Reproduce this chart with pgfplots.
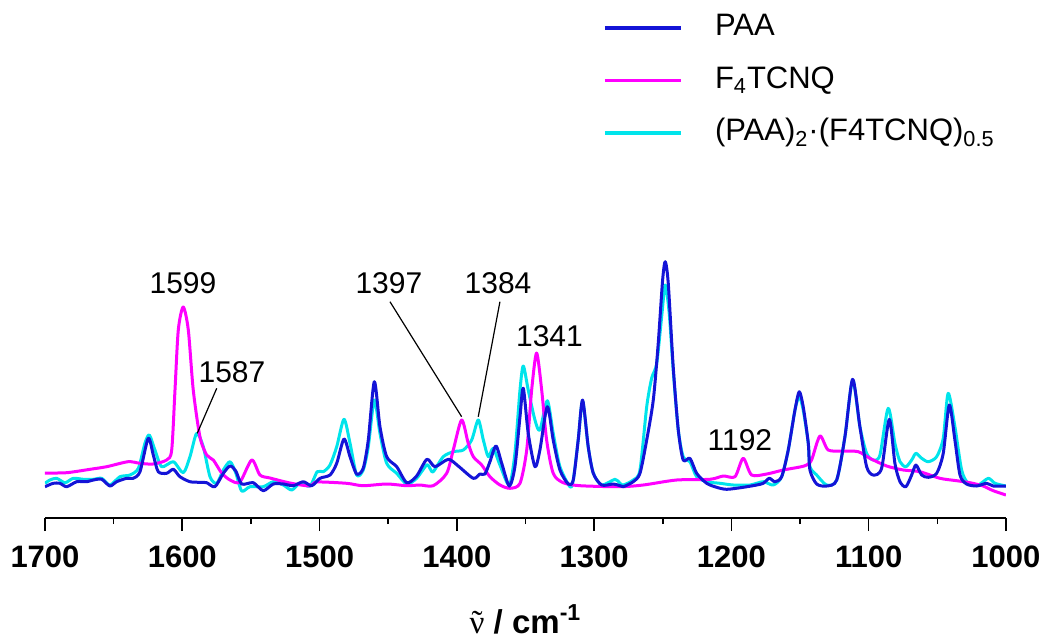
\documentclass[border=0pt]{standalone}
\usepackage{pgfplots}
\pgfplotsset{compat=1.18}
\usepackage{fontspec}
\setmainfont{Liberation Sans}
\newfontfamily\serifnu{Liberation Serif}
\definecolor{paa}{RGB}{20,20,215}
\definecolor{ftc}{RGB}{255,0,255}
\definecolor{cplx}{RGB}{0,228,235}
\begin{document}
\begin{tikzpicture}
\path[use as bounding box] (-22.5pt,-60.5pt) rectangle (497.5pt,259pt);
\begin{axis}[
  scale only axis,
  width=480.5pt, height=254pt,
  xmin=1000, xmax=1700, ymin=0, ymax=508,
  x dir=reverse,
  axis x line=bottom, axis y line=none,
  x axis line style={-, line width=1pt},
  xtick={1000,1100,...,1700},
  minor x tick num=1,
  tick align=outside,
  major tick length=6.5pt, minor tick length=3pt,
  every tick/.style={black, line width=0.8pt},
  /pgf/number format/1000 sep={},
  /pgf/number format/assume math mode=true,
  xticklabel style={font=\bfseries\fontsize{15.5}{18}\selectfont, yshift=-4pt},
  xlabel={{\serifnu\mdseries\accent"02DC ν} / cm\textsuperscript{-1}},
  xlabel style={font=\bfseries\fontsize{16.5}{20}\selectfont, at={(rel axis cs:0.5,0)}, anchor=base, yshift=-57.5pt},
  reverse legend,
  legend cell align=left,
  legend style={draw=none, fill=none, at={(axis description cs:0.5806,0.997)}, anchor=north west,
    inner sep=0pt, row sep=10.25pt,
    font=\fontsize{15.5}{18}\selectfont,
    nodes={inner sep=0pt, text height=12pt, text depth=4pt}},
  legend image code/.code={\draw[#1, line width=1.6pt] (0pt,0pt) -- (38pt,0pt); \path (54.3pt,0pt);},
  every axis plot/.append style={line width=1.5pt, line join=round, smooth, tension=0.45},
]
\addplot[cplx] coordinates {(1700,34.7)(1696.4,38)(1691.5,39.7)(1685.4,35.3)(1679.4,39.7)(1672.1,38.7)(1664.8,38.7)(1658.7,39.7)(1652.7,33)(1645.4,41.3)(1638.1,43)(1632.0,49.7)(1627.2,74.7)(1624.0,83)(1619.9,68)(1615.0,51.3)(1606.5,56.3)(1599.3,45.3)(1594.4,61.3)(1589.5,84.7)(1584.7,71.3)(1579.8,41.3)(1574.9,34.7)(1570.1,48)(1565.2,56.3)(1561,45)(1556.7,27)(1550.7,31.3)(1541.0,31.3)(1533.7,36.3)(1526.4,33)(1520.3,28)(1514.3,34.7)(1507.0,32)(1501.7,46.3)(1497.3,46.3)(1492.4,53)(1487.5,71.3)(1482.2,98.7)(1477.8,74.7)(1473.0,43)(1468.2,48)(1464.5,71.3)(1460.1,118)(1456.0,84.7)(1451.1,54.7)(1443.8,44.7)(1436.5,34)(1429.3,39.7)(1422.0,53)(1419.6,49.7)(1417.2,46.3)(1409.9,61.3)(1402.6,66.3)(1395.3,68)(1389.2,78)(1384.4,98)(1380.7,78)(1377.1,61.3)(1373.5,69.7)(1368.6,53)(1361.8,33)(1357.7,64.7)(1354.0,128)(1351.6,152)(1348.0,128)(1343.1,98)(1339.5,88)(1334.1,117.3)(1329.8,84.7)(1324.9,51.3)(1317.6,31.3)(1315.2,38)(1311.6,78)(1308.4,117)(1304.3,71)(1300.6,45)(1294.5,33)(1284.8,38.7)(1281.2,34.7)(1278.8,33)(1271.5,38)(1266.6,48)(1261.7,111.3)(1258.1,139.7)(1254.4,154.7)(1250.8,201.3)(1248.2,233)(1245.3,204.7)(1242.4,148)(1238.7,88)(1235.1,61.3)(1230.2,56.3)(1225.3,41.3)(1218.0,36.3)(1208.3,34.7)(1198.6,33)(1186.5,33)(1176.8,36.3)(1169.5,33)(1163.4,41.3)(1158.6,68)(1153.7,108)(1150.6,121.3)(1147.7,108)(1144.0,74.7)(1142.8,51.3)(1137.9,43)(1130.6,33)(1123.3,38)(1117.3,81.3)(1111.7,138)(1106.4,91.3)(1101.5,64.7)(1096.7,58)(1091.8,63)(1085.8,109.7)(1080.9,74.7)(1077.2,56.3)(1072.9,51.3)(1068.7,58)(1065.6,64.7)(1061.4,59.7)(1056.6,56.3)(1050.5,61.3)(1045.7,79.7)(1042.1,124.7)(1037.2,91.3)(1032.3,48)(1027.5,34.7)(1020.2,33)(1012.9,39.7)(1008.0,34.7)(1000,32)};
\addlegendentry{(PAA)\textsubscript{2}·(F4TCNQ)\textsubscript{0.5}}
\addplot[ftc] coordinates {(1700,45)(1684.2,45.3)(1667.2,48.7)(1655.1,51.3)(1639.5,56.3)(1630.8,54.7)(1621.3,54)(1611.4,58)(1607.7,68)(1605.3,128)(1602.9,188)(1599.3,211)(1595.6,188)(1592.0,128)(1587.1,81)(1582.2,63)(1577.4,58)(1571.3,45)(1565.2,38)(1558.0,36)(1549.4,58)(1543.4,43)(1536.1,40)(1521.5,35)(1507.0,32)(1502.1,36)(1480.2,34.7)(1468.4,32.3)(1451.1,34)(1436.5,32.3)(1426.9,33)(1417.2,32.3)(1407.4,44.7)(1402.6,68)(1396.5,98)(1391.7,74.7)(1388.0,61.3)(1381.9,53)(1375.9,41.3)(1368.6,33)(1361.3,29.7)(1354.0,34.7)(1349.1,68)(1345.5,128)(1341.9,165)(1338.2,128)(1334.6,78)(1329.8,44.7)(1322.5,35.3)(1310.3,32.3)(1281.2,31.3)(1264.2,33)(1239.9,38)(1215.6,38.7)(1205.9,42)(1197.4,41.3)(1191.4,59.7)(1185.3,43)(1174.3,44)(1162.2,48)(1150.1,51)(1145.2,53)(1141.6,58)(1135.5,82)(1129.5,68)(1118.5,67)(1107.6,66.3)(1099.1,59.7)(1086.9,52)(1074.8,48)(1062.7,46.3)(1048.1,39.7)(1035.9,37.3)(1026.2,35.3)(1016.6,32)(1009.3,27.3)(1000,23)};
\addlegendentry{F\textsubscript{4}TCNQ}
\addplot[paa] coordinates {(1700,31.3)(1694.0,34.7)(1689.1,34.7)(1684.2,31.3)(1676.9,36.3)(1669.6,36.3)(1664.8,38)(1658.7,38.7)(1652.7,32)(1647.8,36.3)(1640.5,39.7)(1635.7,39.7)(1630.8,46.3)(1624.8,79.7)(1621.1,63)(1617.5,46.3)(1611.4,44.7)(1606.5,48.7)(1601.7,41.3)(1594.4,36.3)(1587.1,35.7)(1582.2,35.3)(1576.2,31.3)(1570.1,44.7)(1565.2,52)(1561,47)(1556.7,34)(1548.3,35.3)(1541.0,27.3)(1533.7,34)(1526.4,34)(1519.1,32.3)(1511.9,36.3)(1505.7,32.3)(1499.7,39.7)(1492.4,43)(1487.5,54.7)(1482.2,79)(1477.8,61.3)(1473.0,44)(1468.2,49.7)(1464.5,78)(1460.1,136.3)(1456.0,91.3)(1451.1,61.3)(1443.8,51.3)(1436.5,35.3)(1429.3,42)(1421.8,58.7)(1415.9,51.3)(1406.2,58.7)(1399.0,52)(1388.0,39.7)(1383.2,44)(1379.5,44)(1375.9,56.3)(1371.5,72)(1367.3,54.7)(1361.8,32)(1357.7,51.3)(1354.0,101.3)(1351.6,129.7)(1348.0,84.7)(1343.1,51.3)(1339.5,68)(1334.1,111.3)(1329.8,78)(1324.9,48)(1318.8,34)(1315.2,38)(1311.6,78)(1308.4,118)(1304.3,71.3)(1300.6,44.7)(1294.5,33)(1286.1,34)(1281.2,32.3)(1278.8,31.3)(1271.5,36.3)(1266.6,44.7)(1261.7,78)(1256.9,118)(1253.3,174.7)(1250.1,238)(1248.2,256.3)(1246.0,234.7)(1242.4,151.3)(1238.7,88)(1235.1,58)(1230.2,59.7)(1225.3,44.7)(1218.0,34.7)(1210.7,30.7)(1203.5,28.7)(1191.4,30.7)(1181.6,33)(1176.8,34.7)(1172.4,39.7)(1168.3,36.3)(1163.4,41.3)(1158.6,68)(1153.7,108)(1150.6,126.3)(1147.7,111.3)(1144.0,74.7)(1142.8,48)(1137.9,34)(1130.6,32)(1123.3,38)(1117.3,81.3)(1111.7,138.7)(1106.4,91.3)(1101.5,51.3)(1096.7,43)(1090.6,49.7)(1085.0,98.7)(1080.9,54.7)(1077.2,36.3)(1072.9,31.3)(1068.7,43)(1065.6,53)(1061.4,43)(1056.6,40.7)(1050.5,44.7)(1045.7,64.7)(1041.3,113)(1037.2,78)(1033.5,43)(1028.7,34)(1021.4,32)(1014.1,34.7)(1009.3,32)(1000,32)};
\addlegendentry{PAA}
% annotations
\begin{scope}[every node/.style={font=\fontsize{15}{18}\selectfont, inner sep=0pt}]
\node at (axis cs:1599.5,235) {1599};
\node at (axis cs:1563.8,146) {1587};
\node at (axis cs:1449.5,235) {1397};
\node at (axis cs:1370.0,235) {1384};
\node at (axis cs:1332.5,182) {1341};
\node at (axis cs:1193.8,78) {1192};
\end{scope}
\draw[line width=0.6pt] (axis cs:1574.9,129.7) -- (axis cs:1589.1,84.7);
\draw[line width=0.6pt] (axis cs:1448.7,216.3) -- (axis cs:1396.5,101.3);
\draw[line width=0.6pt] (axis cs:1368.6,216.3) -- (axis cs:1384.4,101.3);
\end{axis}
\end{tikzpicture}
\end{document}
